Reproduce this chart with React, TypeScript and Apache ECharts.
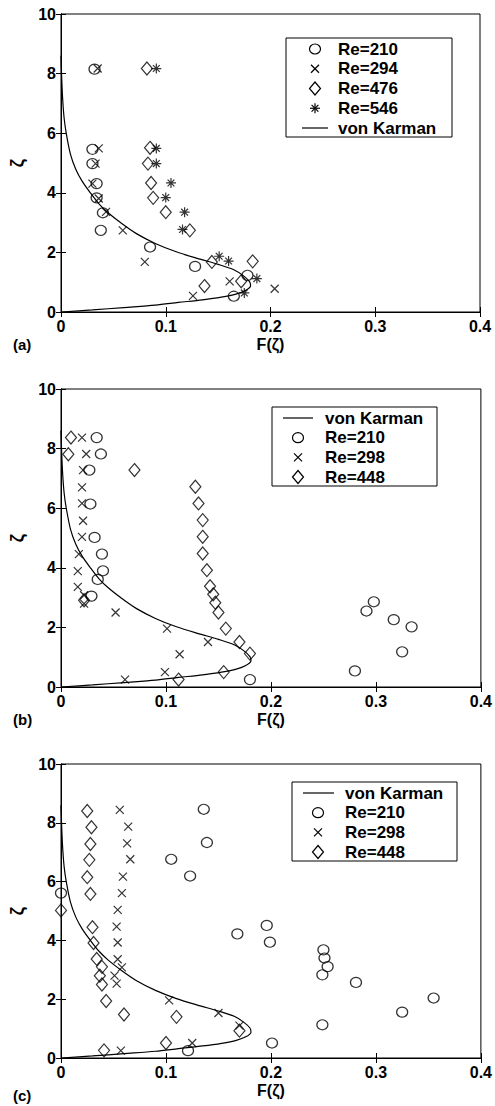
import React, { useEffect, useRef } from "react";
import * as echarts from "echarts";

// ---- axes ----
const X_MIN = 0;
const X_MAX = 0.4;
const X_STEP = 0.1;
const Y_MIN = 0;
const Y_MAX = 10;
const Y_STEP = 2;
const X_NAME = "F(ζ)";
const Y_NAME = "ζ";
const PANEL_TAGS = ["(a)", "(b)", "(c)"];

// ---- von Karman curve (F, ζ) ----
const VK_F = [0, 0.03, 0.06, 0.09, 0.112, 0.135, 0.153, 0.167, 0.176, 0.181, 0.18, 0.174, 0.165, 0.15, 0.13, 0.11, 0.09, 0.072, 0.058, 0.045, 0.036, 0.028, 0.02, 0.014, 0.009, 0.005, 0.003, 0.0015, 0.0005, 0];
const VK_Z = [0, 0.07, 0.15, 0.23, 0.32, 0.41, 0.5, 0.6, 0.72, 0.88, 1.02, 1.22, 1.42, 1.6, 1.8, 2.02, 2.3, 2.63, 2.97, 3.33, 3.64, 4.0, 4.4, 4.8, 5.3, 6.0, 6.5, 7.2, 8.0, 8.6];

// ---- panel (a) ----
const A_RE210 = [[0.032, 8.15], [0.03, 5.46], [0.03, 4.98], [0.034, 4.31], [0.034, 3.83], [0.04, 3.33], [0.038, 2.74], [0.085, 2.18], [0.128, 1.53], [0.178, 1.23], [0.165, 0.53]];
const A_RE294 = [[0.035, 8.17], [0.036, 5.49], [0.033, 4.98], [0.03, 4.31], [0.036, 3.81], [0.043, 3.36], [0.059, 2.74], [0.08, 1.68], [0.126, 0.54], [0.161, 1.03], [0.204, 0.78]];
const A_RE476 = [[0.082, 8.17], [0.085, 5.51], [0.083, 4.98], [0.086, 4.33], [0.088, 3.83], [0.1, 3.35], [0.123, 2.74], [0.144, 1.68], [0.183, 1.7], [0.137, 0.87], [0.172, 1.03]];
const A_RE546 = [[0.091, 8.17], [0.091, 5.49], [0.091, 4.98], [0.105, 4.33], [0.1, 3.84], [0.118, 3.35], [0.116, 2.77], [0.151, 1.87], [0.16, 1.71], [0.187, 1.12], [0.175, 0.64]];

// ---- panel (b) ----
const B_RE210 = [[0.034, 8.37], [0.038, 7.82], [0.027, 7.28], [0.028, 6.14], [0.032, 5.02], [0.039, 4.46], [0.04, 3.9], [0.035, 3.61], [0.029, 3.05], [0.298, 2.86], [0.291, 2.55], [0.317, 2.26], [0.334, 2.02], [0.325, 1.18], [0.28, 0.54], [0.18, 0.25]];
const B_RE298 = [[0.02, 8.37], [0.024, 7.82], [0.021, 7.28], [0.02, 6.7], [0.02, 6.16], [0.021, 5.58], [0.02, 5.04], [0.017, 4.46], [0.016, 3.89], [0.016, 3.36], [0.022, 3.08], [0.022, 2.8], [0.052, 2.5], [0.101, 1.96], [0.14, 1.51], [0.113, 1.1], [0.099, 0.5], [0.061, 0.25]];
const B_RE448 = [[0.0095, 8.37], [0.007, 7.81], [0.07, 7.28], [0.128, 6.72], [0.131, 6.16], [0.135, 5.6], [0.135, 5.04], [0.135, 4.48], [0.139, 3.92], [0.142, 3.38], [0.145, 3.11], [0.147, 2.83], [0.15, 2.5], [0.157, 1.96], [0.17, 1.51], [0.18, 1.12], [0.155, 0.5], [0.112, 0.25], [0.022, 2.91]];

// ---- panel (c) ----
const C_RE210 = [[0.136, 8.46], [0.139, 7.33], [0.105, 6.76], [0.123, 6.19], [0.0, 5.61], [0.168, 4.22], [0.196, 4.51], [0.199, 3.94], [0.25, 3.68], [0.251, 3.4], [0.254, 3.11], [0.249, 2.83], [0.281, 2.57], [0.355, 2.04], [0.325, 1.56], [0.249, 1.13], [0.201, 0.51], [0.121, 0.25]];
const C_RE298 = [[0.056, 8.44], [0.064, 7.87], [0.063, 7.3], [0.066, 6.76], [0.059, 6.17], [0.058, 5.61], [0.054, 5.04], [0.053, 4.47], [0.054, 3.93], [0.054, 3.36], [0.058, 3.08], [0.051, 2.8], [0.053, 2.53], [0.103, 1.96], [0.15, 1.53], [0.17, 1.1], [0.125, 0.51], [0.057, 0.25]];
const C_RE448 = [[0.025, 8.4], [0.029, 7.85], [0.028, 7.28], [0.027, 6.74], [0.025, 6.15], [0.028, 5.58], [0.0, 5.02], [0.03, 4.45], [0.031, 3.91], [0.034, 3.37], [0.039, 3.1], [0.037, 2.8], [0.039, 2.5], [0.043, 1.94], [0.06, 1.48], [0.11, 1.4], [0.17, 0.93], [0.1, 0.51], [0.041, 0.26]];

const FONT = "'Liberation Sans', Arial, Helvetica, sans-serif";
const BLACK = "#000";
const LW = 1.2;

const SYM_X = "path://M0,0L10,10M10,0L0,10";
const SYM_STAR = "path://M5,0L5,10M0,5L10,5M1.6,1.6L8.4,8.4M8.4,1.6L1.6,8.4";

type Marker = { symbol: string; size: number[] };
const MARK: Record<string, Marker> = {
  circle: { symbol: "circle", size: [11, 10] },
  cross: { symbol: SYM_X, size: [8, 8] },
  diamond: { symbol: "diamond", size: [11, 13] },
  star: { symbol: SYM_STAR, size: [10, 10] },
};

const GRIDS = [
  { left: 58, top: 14, width: 422, height: 298 },
  { left: 58, top: 389, width: 423, height: 298 },
  { left: 58, top: 764, width: 423, height: 294 },
];

const PANELS = [
  {
    series: [
      { name: "Re=210", data: A_RE210, mark: "circle" },
      { name: "Re=294", data: A_RE294, mark: "cross" },
      { name: "Re=476", data: A_RE476, mark: "diamond" },
      { name: "Re=546", data: A_RE546, mark: "star" },
    ],
    legendOrder: ["Re=210", "Re=294", "Re=476", "Re=546", "von Karman"],
    legend: { left: 286, top: 38, width: 166, height: 99, row0: 49, step: 19.75, lineX1: 302, lineX2: 328, markX: 315, textX: 338 },
    tagTop: 337,
  },
  {
    series: [
      { name: "Re=210", data: B_RE210, mark: "circle" },
      { name: "Re=298", data: B_RE298, mark: "cross" },
      { name: "Re=448", data: B_RE448, mark: "diamond" },
    ],
    legendOrder: ["von Karman", "Re=210", "Re=298", "Re=448"],
    legend: { left: 272, top: 407, width: 165, height: 79, row0: 418, step: 19.67, lineX1: 283, lineX2: 313, markX: 298, textX: 325 },
    tagTop: 712,
  },
  {
    series: [
      { name: "Re=210", data: C_RE210, mark: "circle" },
      { name: "Re=298", data: C_RE298, mark: "cross" },
      { name: "Re=448", data: C_RE448, mark: "diamond" },
    ],
    legendOrder: ["von Karman", "Re=210", "Re=298", "Re=448"],
    legend: { left: 292, top: 782, width: 165, height: 79, row0: 793, step: 19.67, lineX1: 303, lineX2: 334, markX: 318, textX: 345 },
    tagTop: 1088,
  },
];

function fmtX(v: number) {
  if (Math.abs(v) < 1e-9) return "0";
  return String(Math.round(v * 10) / 10);
}

const stroke = { stroke: BLACK, lineWidth: LW, fill: "none" };

function seg(x1: number, y1: number, x2: number, y2: number) {
  return { type: "line", shape: { x1, y1, x2, y2 }, style: { stroke: BLACK, lineWidth: LW }, z: 101 };
}

function legendMarker(mark: string, cx: number, cy: number): any[] {
  const [w, h] = MARK[mark].size;
  if (mark === "circle") {
    return [{ type: "ellipse", shape: { cx, cy, rx: w / 2, ry: h / 2 }, style: stroke, z: 101 }];
  }
  if (mark === "diamond") {
    return [{
      type: "polygon",
      shape: { points: [[cx, cy - h / 2], [cx + w / 2, cy], [cx, cy + h / 2], [cx - w / 2, cy]] },
      style: stroke, z: 101,
    }];
  }
  if (mark === "cross") {
    const r = w / 2;
    return [seg(cx - r, cy - r, cx + r, cy + r), seg(cx + r, cy - r, cx - r, cy + r)];
  }
  const r = w / 2;
  const d = r * 0.68;
  return [
    seg(cx, cy - r, cx, cy + r),
    seg(cx - r, cy, cx + r, cy),
    seg(cx - d, cy - d, cx + d, cy + d),
    seg(cx + d, cy - d, cx - d, cy + d),
  ];
}

export default function App() {
  const ref = useRef<HTMLDivElement>(null);

  useEffect(() => {
    if (!ref.current) return;
    const chart = echarts.init(ref.current, null, { renderer: "svg" });

    const vk = VK_F.map((f, i) => [f, VK_Z[i]]);
    const labelStyle = { color: BLACK, fontFamily: FONT, fontWeight: "bold" as const, fontSize: 16 };

    const xAxes: any[] = [];
    const yAxes: any[] = [];
    const series: any[] = [];
    const graphics: any[] = [];

    PANELS.forEach((p, gi) => {
      xAxes.push({
        type: "value", gridIndex: gi, position: "bottom", min: X_MIN, max: X_MAX, interval: X_STEP,
        name: X_NAME, nameLocation: "middle", nameGap: 24,
        nameTextStyle: { ...labelStyle, fontSize: 16 },
        axisLine: { show: true, lineStyle: { color: BLACK, width: 1 } },
        axisTick: { show: true, inside: true, length: 5, lineStyle: { color: BLACK } },
        axisLabel: { ...labelStyle, margin: 6, formatter: fmtX },
        splitLine: { show: false },
      });
      yAxes.push({
        type: "value", gridIndex: gi, position: "left", min: Y_MIN, max: Y_MAX, interval: Y_STEP,
        name: Y_NAME, nameLocation: "middle", nameGap: 35, nameRotate: 90,
        nameTextStyle: { ...labelStyle, fontSize: 18 },
        axisLine: { show: true, lineStyle: { color: BLACK, width: 1 } },
        axisTick: { show: true, inside: true, length: 5, lineStyle: { color: BLACK } },
        axisLabel: { ...labelStyle, margin: 5 },
        splitLine: { show: false },
      });
    });
    PANELS.forEach((p, gi) => {
      xAxes.push({
        type: "value", gridIndex: gi, position: "top", min: X_MIN, max: X_MAX, interval: X_STEP,
        axisLine: { show: true, lineStyle: { color: BLACK, width: 1 } },
        axisTick: { show: true, inside: true, length: 5, lineStyle: { color: BLACK } },
        axisLabel: { show: false }, splitLine: { show: false },
      });
      yAxes.push({
        type: "value", gridIndex: gi, position: "right", min: Y_MIN, max: Y_MAX, interval: Y_STEP,
        axisLine: { show: true, lineStyle: { color: BLACK, width: 1 } },
        axisTick: { show: true, inside: true, length: 5, lineStyle: { color: BLACK } },
        axisLabel: { show: false }, splitLine: { show: false },
      });
    });

    PANELS.forEach((p, gi) => {
      series.push({
        type: "line", name: "von Karman", xAxisIndex: gi, yAxisIndex: gi,
        data: vk, smooth: 0.3, symbol: "none", showSymbol: false,
        lineStyle: { color: BLACK, width: LW }, itemStyle: { color: BLACK }, z: 1,
      });
      p.series.forEach((s) => {
        const m = MARK[s.mark];
        series.push({
          type: "scatter", name: s.name, xAxisIndex: gi, yAxisIndex: gi,
          data: s.data, symbol: m.symbol, symbolSize: m.size,
          itemStyle: { color: "none", borderColor: BLACK, borderWidth: LW }, z: 2,
        });
      });

      // legend box
      const L = p.legend;
      graphics.push({
        type: "rect", shape: { x: L.left, y: L.top, width: L.width, height: L.height },
        style: { fill: "#fff", stroke: BLACK, lineWidth: 1 }, z: 100,
      });
      p.legendOrder.forEach((name, i) => {
        const cy = L.row0 + i * L.step;
        if (name === "von Karman") {
          graphics.push(seg(L.lineX1, cy, L.lineX2, cy));
        } else {
          const s = p.series.find((q) => q.name === name)!;
          legendMarker(s.mark, L.markX, cy).forEach((g) => graphics.push(g));
        }
        graphics.push({
          type: "text", x: L.textX, y: cy, z: 101,
          style: { text: name, fill: BLACK, font: `bold 17px ${FONT}`, align: "left", verticalAlign: "middle" },
        });
      });

      graphics.push({
        type: "text", left: 13, top: p.tagTop,
        style: { text: PANEL_TAGS[gi], fill: BLACK, font: `bold 15px ${FONT}` },
      });
    });

    chart.setOption({
      animation: false,
      backgroundColor: "#fff",
      grid: GRIDS.map((g) => ({ ...g, show: true, borderColor: BLACK, borderWidth: 1, backgroundColor: "transparent" })),
      xAxis: xAxes,
      yAxis: yAxes,
      series,
      graphic: graphics,
    });

    return () => chart.dispose();
  }, []);

  return (
    <div
      ref={ref}
      style={{ position: "absolute", left: 0, top: 0, width: 495, height: 1106, background: "#fff" }}
    />
  );
}
